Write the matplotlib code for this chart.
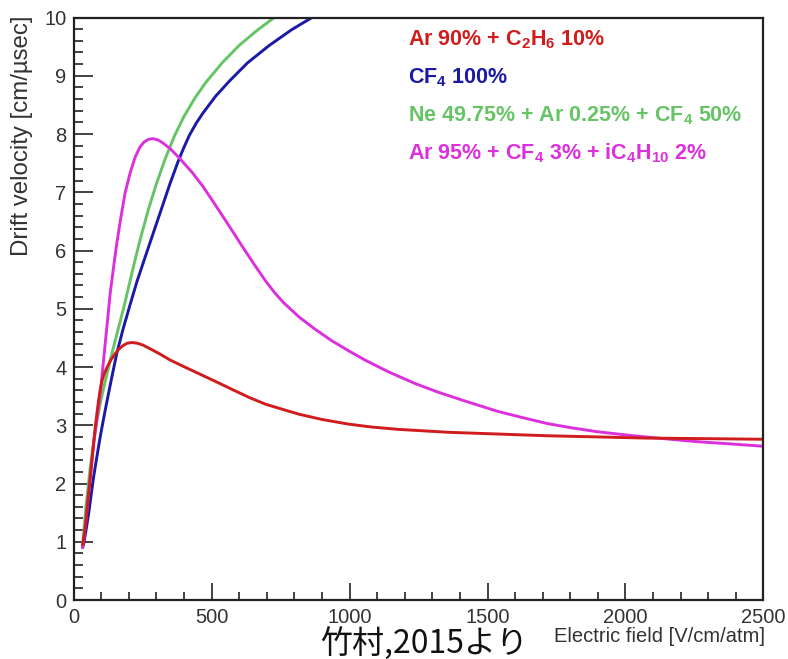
import matplotlib
matplotlib.use("Agg")
import matplotlib.pyplot as plt
from matplotlib.ticker import MultipleLocator

plt.rcParams["font.family"] = ["Liberation Sans", "DejaVu Sans"]
plt.rcParams["mathtext.fontset"] = "custom"
plt.rcParams["mathtext.rm"] = "Liberation Sans:bold"
plt.rcParams["mathtext.it"] = "Liberation Sans:bold"
plt.rcParams["mathtext.bf"] = "Liberation Sans:bold"
plt.rcParams["mathtext.default"] = "rm"

# Drift velocity [cm/usec] versus electric field [V/cm/atm]
ar_c2h6_field = [33, 43, 52, 61, 70, 79, 90, 97, 103, 110, 121, 135, 151, 165, 180, 195, 211,
                 230, 250, 275, 307, 350, 403, 457, 529, 577, 640, 697, 760, 817, 900, 996,
                 1080, 1176, 1356, 1536, 1716, 1900, 2076, 2300, 2500]
ar_c2h6_vel = [0.95, 1.26, 1.70, 2.12, 2.56, 2.98, 3.40, 3.62, 3.76, 3.87, 3.99, 4.12, 4.23,
               4.31, 4.37, 4.41, 4.42, 4.41, 4.38, 4.32, 4.24, 4.12, 4.00, 3.88, 3.72, 3.61,
               3.47, 3.36, 3.27, 3.19, 3.10, 3.02, 2.97, 2.93, 2.88, 2.85, 2.82, 2.80, 2.78,
               2.77, 2.76]

cf4_field = [33, 37, 46, 55, 64, 73, 85, 97, 112, 127, 142, 157, 180, 205, 230, 259, 289, 319,
             349, 379, 400, 420, 445, 469, 515, 565, 630, 709, 790, 864, 950]
cf4_vel = [0.90, 0.97, 1.22, 1.49, 1.81, 2.12, 2.47, 2.81, 3.19, 3.55, 3.90, 4.24, 4.66, 5.07,
           5.47, 5.88, 6.30, 6.72, 7.14, 7.53, 7.77, 7.98, 8.19, 8.36, 8.65, 8.91, 9.22, 9.52,
           9.79, 10.0, 10.23]

ne_ar_cf4_field = [33, 45, 61, 80, 97, 113, 140, 160, 181, 200, 223, 245, 271, 300, 331, 365,
                   400, 440, 480, 540, 600, 660, 727, 800]
ne_ar_cf4_vel = [0.95, 1.60, 2.30, 2.95, 3.38, 3.72, 4.25, 4.62, 5.00, 5.38, 5.84, 6.25, 6.70,
                 7.14, 7.56, 7.96, 8.30, 8.62, 8.89, 9.23, 9.52, 9.76, 10.0, 10.23]

ar_cf4_ic4h10_field = [33, 37, 46, 55, 64, 73, 85, 97, 106, 115, 124, 133, 145, 157, 172, 187,
                       205, 223, 240, 255, 272, 288, 305, 320, 350, 385, 430, 469, 510, 553,
                       613, 655, 697, 730, 760, 817, 875, 936, 1000, 1056, 1140, 1236, 1320,
                       1416, 1536, 1620, 1716, 1800, 1896, 2028, 2140, 2255, 2380, 2500]
ar_cf4_ic4h10_vel = [0.90, 1.03, 1.43, 1.83, 2.26, 2.69, 3.12, 3.55, 3.98, 4.41, 4.84, 5.27,
                     5.71, 6.13, 6.58, 6.99, 7.33, 7.60, 7.77, 7.86, 7.91, 7.92, 7.90, 7.86,
                     7.75, 7.58, 7.34, 7.10, 6.81, 6.50, 6.06, 5.76, 5.47, 5.27, 5.11, 4.86,
                     4.65, 4.45, 4.27, 4.12, 3.92, 3.72, 3.57, 3.42, 3.24, 3.14, 3.03, 2.96,
                     2.89, 2.82, 2.77, 2.72, 2.68, 2.64]

labels = [r"Ar 90% + C$_{2}$H$_{6}$ 10%",
          r"CF$_{4}$ 100%",
          r"Ne 49.75% + Ar 0.25% + CF$_{4}$ 50%",
          r"Ar 95% + CF$_{4}$ 3% + iC$_{4}$H$_{10}$ 2%"]
colors = ["#d01c1c", "#1a1aa6", "#66c466", "#dd30dd"]

fig = plt.figure(figsize=(7.88, 6.59), dpi=100)
ax = fig.add_axes([0.0933, 0.0895, 0.8756, 0.8839])

lw = 2.1
kw = dict(lw=lw, solid_capstyle="round", solid_joinstyle="round")
ax.plot(ne_ar_cf4_field, ne_ar_cf4_vel, color=colors[2], **kw)
ax.plot(cf4_field, cf4_vel, color=colors[1], **kw)
ax.plot(ar_cf4_ic4h10_field, ar_cf4_ic4h10_vel, color=colors[3], **kw)
ax.plot(ar_c2h6_field, ar_c2h6_vel, color=colors[0], **kw)

ax.set_xlim(0, 2500)
ax.set_ylim(0, 10)

ax.xaxis.set_major_locator(MultipleLocator(500))
ax.xaxis.set_minor_locator(MultipleLocator(100))
ax.yaxis.set_major_locator(MultipleLocator(1))
ax.yaxis.set_minor_locator(MultipleLocator(0.2))

ax.tick_params(axis="both", which="both", direction="in", colors="#222222",
               labelcolor="#333333", labelsize=14.5, width=1.2)
ax.tick_params(axis="y", which="major", length=14, pad=5)
ax.tick_params(axis="y", which="minor", length=6.5)
ax.tick_params(axis="x", which="major", length=12, pad=6)
ax.tick_params(axis="x", which="minor", length=6)

for s in ax.spines.values():
    s.set_linewidth(1.6)
    s.set_color("#222222")

# Legend entries as coloured text lines
legend_y = [45, 83, 121, 159]
for lab, col, yp in zip(labels, colors, legend_y):
    fig.text(408 / 788, 1 - yp / 659, lab, color=col, fontsize=15.5,
             fontweight="bold", ha="left", va="baseline")

fig.text(22 / 788, 1 - 15 / 659, "Drift velocity [cm/\u00b5sec]", rotation=90,
         ha="center", va="top", fontsize=17.3, color="#333333")
fig.text(765 / 788, 1 - 637 / 659, "Electric field [V/cm/atm]",
         ha="right", va="center", fontsize=14.5, color="#333333")
fig.text(424 / 788, 1 - 643 / 659, "竹村,2015より",
         family=["Noto Sans CJK JP", "DejaVu Sans"], ha="center", va="center",
         fontsize=23, color="#111111")

fig.savefig("out.png", dpi=100)
